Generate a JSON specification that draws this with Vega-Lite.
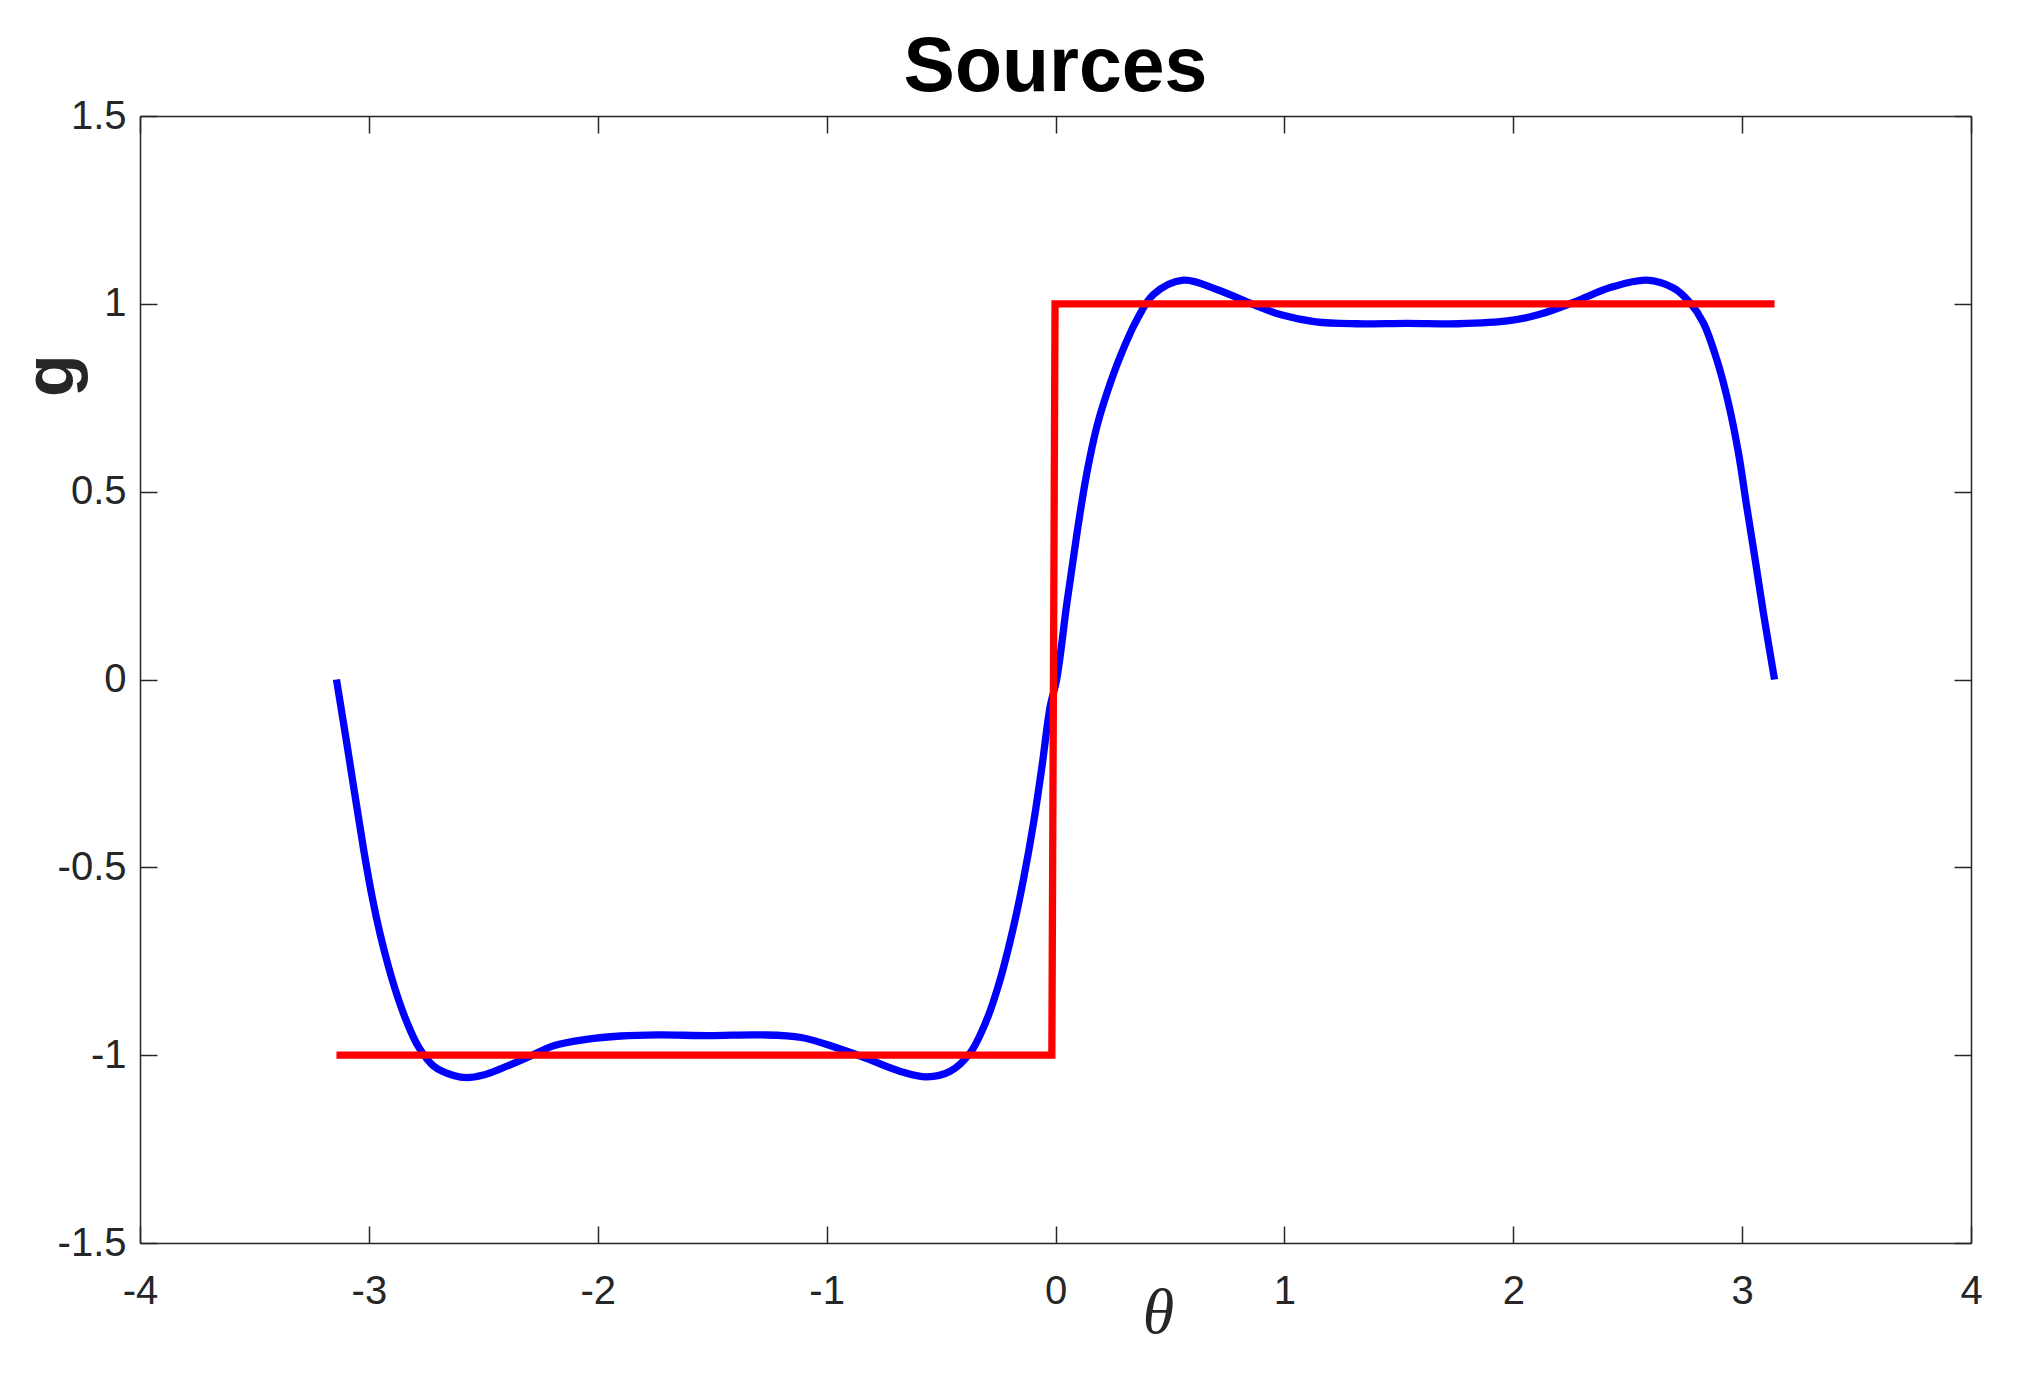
{
  "$schema": "https://vega.github.io/schema/vega-lite/v6.json",
  "width": 1831,
  "height": 1127,
  "autosize": {"type": "none"},
  "padding": {"left": 140, "top": 116, "right": 57, "bottom": 138},
  "background": "white",
  "title": {"text": "Sources", "font": "Liberation Sans", "fontSize": 77, "fontWeight": "bold", "color": "#000000", "anchor": "middle", "frame": "group", "baseline": "bottom", "offset": 8, "dy": 96},
  "config": {
    "view": {"stroke": null},
    "axis": {"grid": false, "domainColor": "#262626", "domainWidth": 1.5, "tickColor": "#262626", "tickWidth": 1.5, "labelColor": "#262626", "labelFont": "Liberation Sans", "labelFontSize": 40, "labelFlush": false, "labelOverlap": false}
  },
  "data": {"values": [
    {"series": "g", "theta": -3.1416, "value": 0.0},
    {"series": "g", "theta": -3.096, "value": -0.172},
    {"series": "g", "theta": -3.059, "value": -0.315},
    {"series": "g", "theta": -3.023, "value": -0.452},
    {"series": "g", "theta": -2.986, "value": -0.578},
    {"series": "g", "theta": -2.95, "value": -0.68},
    {"series": "g", "theta": -2.914, "value": -0.765},
    {"series": "g", "theta": -2.878, "value": -0.838},
    {"series": "g", "theta": -2.834, "value": -0.912},
    {"series": "g", "theta": -2.783, "value": -0.978},
    {"series": "g", "theta": -2.717, "value": -1.029},
    {"series": "g", "theta": -2.63, "value": -1.054},
    {"series": "g", "theta": -2.571, "value": -1.06},
    {"series": "g", "theta": -2.5, "value": -1.053},
    {"series": "g", "theta": -2.42, "value": -1.035},
    {"series": "g", "theta": -2.3, "value": -1.004},
    {"series": "g", "theta": -2.193, "value": -0.975},
    {"series": "g", "theta": -2.05, "value": -0.958},
    {"series": "g", "theta": -1.9, "value": -0.949},
    {"series": "g", "theta": -1.739, "value": -0.946},
    {"series": "g", "theta": -1.514, "value": -0.948},
    {"series": "g", "theta": -1.29, "value": -0.946},
    {"series": "g", "theta": -1.111, "value": -0.953},
    {"series": "g", "theta": -0.953, "value": -0.981},
    {"series": "g", "theta": -0.841, "value": -1.005},
    {"series": "g", "theta": -0.684, "value": -1.042},
    {"series": "g", "theta": -0.562, "value": -1.058},
    {"series": "g", "theta": -0.46, "value": -1.043},
    {"series": "g", "theta": -0.373, "value": -0.994},
    {"series": "g", "theta": -0.3, "value": -0.905},
    {"series": "g", "theta": -0.242, "value": -0.799},
    {"series": "g", "theta": -0.183, "value": -0.657},
    {"series": "g", "theta": -0.14, "value": -0.532},
    {"series": "g", "theta": -0.096, "value": -0.382},
    {"series": "g", "theta": -0.059, "value": -0.231},
    {"series": "g", "theta": -0.023, "value": -0.071},
    {"series": "g", "theta": 0.005, "value": 0.0},
    {"series": "g", "theta": 0.05, "value": 0.204},
    {"series": "g", "theta": 0.094, "value": 0.39},
    {"series": "g", "theta": 0.137, "value": 0.55},
    {"series": "g", "theta": 0.181, "value": 0.674},
    {"series": "g", "theta": 0.225, "value": 0.763},
    {"series": "g", "theta": 0.283, "value": 0.86},
    {"series": "g", "theta": 0.356, "value": 0.958},
    {"series": "g", "theta": 0.428, "value": 1.025},
    {"series": "g", "theta": 0.559, "value": 1.063},
    {"series": "g", "theta": 0.705, "value": 1.038},
    {"series": "g", "theta": 0.865, "value": 0.998},
    {"series": "g", "theta": 0.99, "value": 0.97},
    {"series": "g", "theta": 1.137, "value": 0.952},
    {"series": "g", "theta": 1.315, "value": 0.947},
    {"series": "g", "theta": 1.537, "value": 0.948},
    {"series": "g", "theta": 1.76, "value": 0.947},
    {"series": "g", "theta": 1.982, "value": 0.955},
    {"series": "g", "theta": 2.116, "value": 0.972},
    {"series": "g", "theta": 2.271, "value": 1.006},
    {"series": "g", "theta": 2.427, "value": 1.044},
    {"series": "g", "theta": 2.584, "value": 1.063},
    {"series": "g", "theta": 2.7, "value": 1.042},
    {"series": "g", "theta": 2.773, "value": 1.0025},
    {"series": "g", "theta": 2.831, "value": 0.949},
    {"series": "g", "theta": 2.889, "value": 0.852},
    {"series": "g", "theta": 2.94, "value": 0.736},
    {"series": "g", "theta": 2.984, "value": 0.603},
    {"series": "g", "theta": 3.02, "value": 0.461},
    {"series": "g", "theta": 3.057, "value": 0.319},
    {"series": "g", "theta": 3.093, "value": 0.177},
    {"series": "g", "theta": 3.1416, "value": 0.0},
    {"series": "source", "theta": -3.1416, "value": -1},
    {"series": "source", "theta": -0.016, "value": -1},
    {"series": "source", "theta": -0.002, "value": 1},
    {"series": "source", "theta": 3.1416, "value": 1}
  ]},
  "layer": [
    {
      "transform": [{"filter": "datum.series === 'g'"}],
      "mark": {"type": "line", "color": "#0000FF", "strokeWidth": 7.3, "interpolate": "catmull-rom"},
      "encoding": {
        "x": {"field": "theta", "type": "quantitative", "scale": {"domain": [-4, 4], "nice": false, "zero": false},
          "axis": {"orient": "bottom", "values": [-4, -3, -2, -1, 0, 1, 2, 3, 4], "labelExpr": "'' + datum.value", "tickSize": -17, "labelPadding": 45,
            "title": "θ", "titleFont": "Liberation Serif", "titleFontStyle": "italic", "titleFontWeight": "normal", "titleFontSize": 64, "titleColor": "#262626",
            "titleX": 1018, "titleY": 89, "titleAlign": "center", "titleBaseline": "alphabetic", "titleAngle": 0}},
        "y": {"field": "value", "type": "quantitative", "scale": {"domain": [-1.5, 1.5], "nice": false, "zero": false},
          "axis": {"orient": "left", "values": [-1.5, -1, -0.5, 0, 0.5, 1, 1.5], "labelExpr": "'' + datum.value", "tickSize": -17, "labelPadding": 31,
            "title": "g", "titleFont": "Liberation Sans", "titleFontWeight": "bold", "titleFontSize": 70, "titleColor": "#262626",
            "titleX": -68, "titleY": 259, "titleAngle": 270, "titleAlign": "center", "titleBaseline": "alphabetic"}}
      }
    },
    {
      "transform": [{"filter": "datum.series === 'source'"}],
      "mark": {"type": "line", "color": "#FF0000", "strokeWidth": 7.3, "interpolate": "linear", "strokeJoin": "miter"},
      "encoding": {
        "x": {"field": "theta", "type": "quantitative", "scale": {"domain": [-4, 4], "nice": false, "zero": false},
          "axis": {"orient": "top", "values": [-4, -3, -2, -1, 0, 1, 2, 3, 4], "labels": false, "tickSize": -17, "title": null}},
        "y": {"field": "value", "type": "quantitative", "scale": {"domain": [-1.5, 1.5], "nice": false, "zero": false},
          "axis": {"orient": "right", "values": [-1.5, -1, -0.5, 0, 0.5, 1, 1.5], "labels": false, "tickSize": -17, "title": null}}
      }
    }
  ],
  "resolve": {"axis": {"x": "independent", "y": "independent"}}
}
